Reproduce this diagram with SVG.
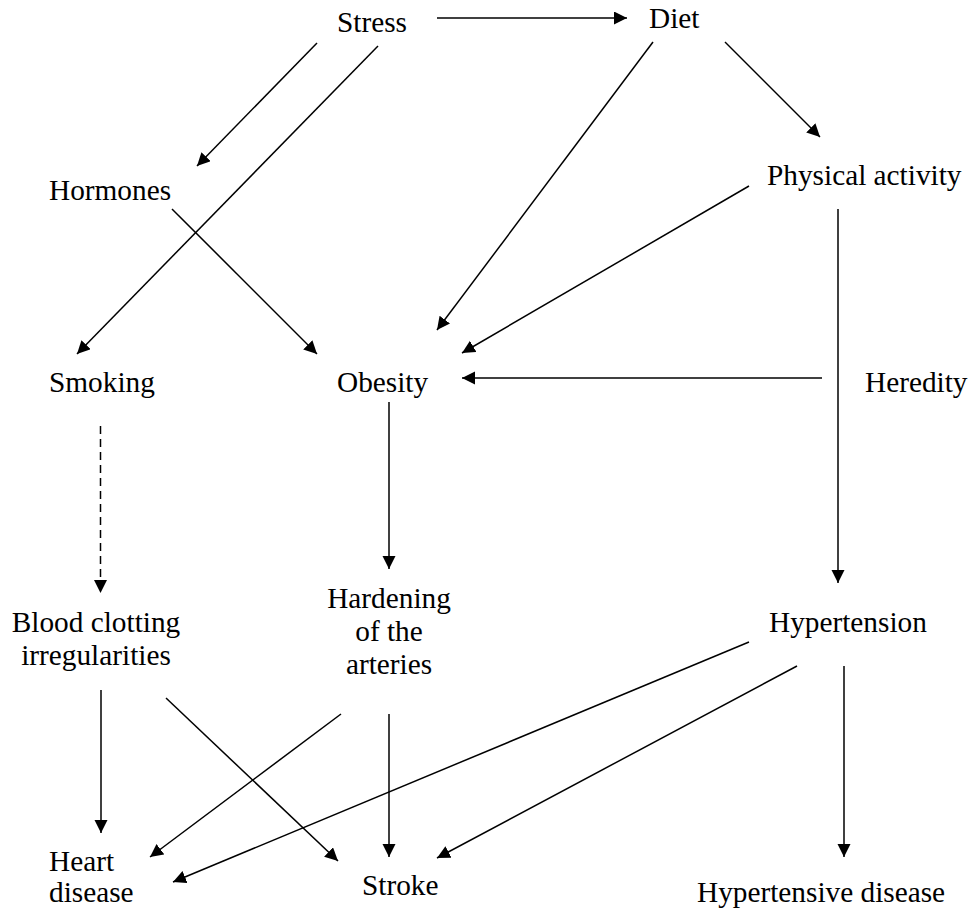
<svg xmlns="http://www.w3.org/2000/svg" width="971" height="909" viewBox="0 0 971 909">
<style>
text{font-family:"Liberation Serif","DejaVu Serif","Times New Roman",serif;font-size:29.3px;fill:#000}
.c line{stroke:#000;stroke-width:1.5;fill:none;marker-end:url(#ah)}
.c line.d{stroke-dasharray:8 5}
.m{text-anchor:middle}
</style>
<defs>
<marker id="ah" markerUnits="userSpaceOnUse" markerWidth="14" markerHeight="14" refX="13" refY="6.5" orient="auto">
<path d="M0,0 L13,6.5 L0,13 Z" fill="#000" stroke="none"/>
</marker>
</defs>
<rect width="971" height="909" fill="#fff"/>
<g id="stress"><text x="337" y="32">Stress</text></g>
<g id="diet"><text x="649" y="28">Diet</text></g>
<g id="hormones"><text x="49" y="200">Hormones</text></g>
<g id="physical-activity"><text x="767" y="185">Physical activity</text></g>
<g id="smoking"><text x="49" y="392">Smoking</text></g>
<g id="obesity"><text x="337" y="392">Obesity</text></g>
<g id="heredity"><text x="865" y="392">Heredity</text></g>
<g id="blood-clotting"><text class="m" x="96" y="632">Blood clotting</text><text class="m" x="96" y="665">irregularities</text></g>
<g id="hardening"><text class="m" x="389" y="608">Hardening</text><text class="m" x="389" y="641">of the</text><text class="m" x="389" y="674">arteries</text></g>
<g id="hypertension"><text x="769" y="632">Hypertension</text></g>
<g id="heart-disease"><text x="49" y="871">Heart</text><text x="49" y="902">disease</text></g>
<g id="stroke"><text x="362" y="895">Stroke</text></g>
<g id="hypertensive-disease"><text x="697" y="902">Hypertensive disease</text></g>
<g id="connectors" class="c">
<line x1="437" y1="18" x2="627" y2="18"/>
<line x1="317" y1="43" x2="197" y2="166"/>
<line x1="378" y1="46" x2="77" y2="354"/>
<line x1="172" y1="209" x2="317" y2="354"/>
<line x1="653" y1="42" x2="437" y2="330"/>
<line x1="725" y1="42" x2="820" y2="137"/>
<line x1="749" y1="186" x2="462" y2="353"/>
<line x1="838" y1="209" x2="838" y2="583"/>
<line x1="822" y1="378" x2="462" y2="378"/>
<line class="d" x1="100.5" y1="426" x2="100.5" y2="593"/>
<line x1="389" y1="402" x2="389" y2="569"/>
<line x1="101" y1="690" x2="101" y2="833"/>
<line x1="166" y1="698" x2="338" y2="861"/>
<line x1="341" y1="714" x2="150" y2="857"/>
<line x1="389" y1="714" x2="389" y2="857"/>
<line x1="749" y1="642" x2="173" y2="882"/>
<line x1="797" y1="666" x2="437" y2="858"/>
<line x1="844" y1="666" x2="844" y2="857"/>
</g>
</svg>
